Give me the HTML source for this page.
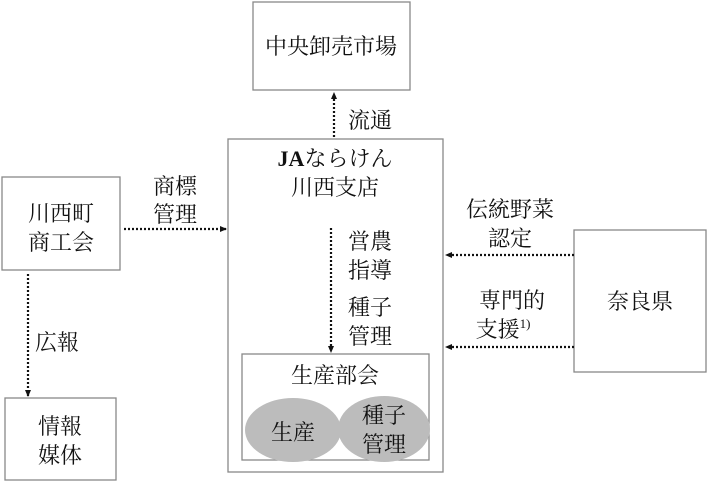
<!DOCTYPE html>
<html><head><meta charset="utf-8"><style>
body{margin:0;width:708px;height:482px;background:#fff;overflow:hidden}
svg text{font-family:"Liberation Serif","Noto Serif CJK SC",serif;font-size:22px;fill:#111;text-anchor:middle}
</style></head><body>
<svg width="708" height="482" xmlns="http://www.w3.org/2000/svg">
<defs><marker id="a" markerWidth="8" markerHeight="8" refX="6" refY="4" orient="auto" markerUnits="userSpaceOnUse"><path d="M0,1 L7,4 L0,7z" fill="#111"/></marker></defs>
<g fill="none" stroke="#888" stroke-width="1.3">
<rect x="253" y="2" width="157" height="88"/>
<rect x="228" y="139" width="215" height="333"/>
<rect x="242" y="354" width="187" height="106"/>
<rect x="2" y="177" width="118" height="93"/>
<rect x="5" y="398" width="111" height="82"/>
<rect x="574" y="230" width="132" height="142"/>
</g>
<ellipse cx="293" cy="430" rx="48" ry="32" fill="#bcbcbc"/>
<ellipse cx="384" cy="429" rx="46" ry="33" fill="#bcbcbc"/>
<g stroke="#111" stroke-width="2.2" stroke-dasharray="2 2" marker-end="url(#a)">
<line x1="124" y1="229" x2="226" y2="229"/>
<line x1="28" y1="274" x2="28" y2="396"/>
<line x1="331" y1="228" x2="331" y2="352"/>
<line x1="334" y1="137" x2="334" y2="93"/>
<line x1="574" y1="255" x2="446" y2="255"/>
<line x1="574" y1="347" x2="446" y2="347"/>
</g>
<text x="331" y="54">中央卸売市場</text>
<text x="370" y="128">流通</text>
<text x="335" y="166"><tspan font-weight="bold">JA</tspan>ならけん</text>
<text x="335" y="195">川西支店</text>
<text x="370" y="249">営農</text>
<text x="370" y="278">指導</text>
<text x="370" y="315">種子</text>
<text x="370" y="344">管理</text>
<text x="335" y="383">生産部会</text>
<text x="293" y="440">生産</text>
<text x="384" y="423">種子</text>
<text x="384" y="452">管理</text>
<text x="61" y="221">川西町</text>
<text x="61" y="250">商工会</text>
<text x="175" y="194">商標</text>
<text x="175" y="222">管理</text>
<text x="57" y="350">広報</text>
<text x="60" y="434">情報</text>
<text x="60" y="463">媒体</text>
<text x="510" y="217">伝統野菜</text>
<text x="510" y="246">認定</text>
<text x="512" y="308">専門的</text>
<text x="503" y="337">支援<tspan font-size="13" dy="-9">1)</tspan></text>
<text x="640" y="309">奈良県</text>
</svg>
</body></html>
